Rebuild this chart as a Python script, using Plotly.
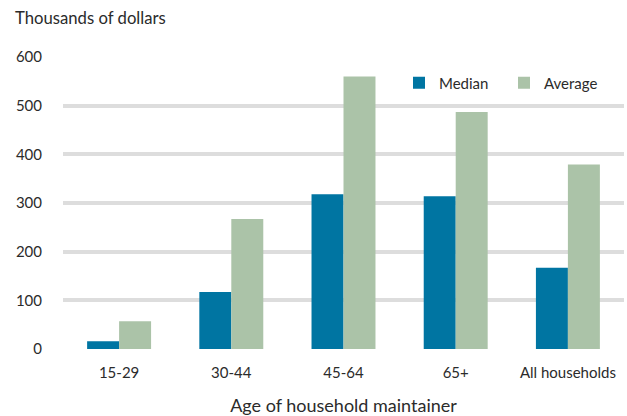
import plotly.graph_objects as go

categories = ["15-29", "30-44", "45-64", "65+", "All households"]
median_values = [16, 117, 318, 314, 167]
average_values = [57, 267, 560, 487, 379]
y_ticks = [0, 100, 200, 300, 400, 500, 600]

FONT = "Lato, 'Open Sans', sans-serif"
TXT = "#2b2b2b"

L, R, T, B = 63, 3, 57, 67
W, H = 627, 416
PW, PH = W - L - R, H - T - B

fig = go.Figure()
fig.add_trace(go.Bar(name="Median", x=categories, y=median_values,
                     marker=dict(color="#0075a2", line=dict(width=0))))
fig.add_trace(go.Bar(name="Average", x=categories, y=average_values,
                     marker=dict(color="#abc3a8", line=dict(width=0))))

fig.update_layout(
    width=W, height=H,
    margin=dict(l=L, r=R, t=T, b=B, autoexpand=False),
    paper_bgcolor="white", plot_bgcolor="white",
    barmode="group", bargap=0.43, bargroupgap=0,
    font=dict(family=FONT, color=TXT, size=14),
    legend=dict(orientation="h", x=(399 - L) / PW, xanchor="left",
                y=(H - B - 83) / PH, yanchor="middle",
                font=dict(size=15, family=FONT, color=TXT),
                entrywidth=60, entrywidthmode="pixels",
                tracegroupgap=0, bgcolor="rgba(0,0,0,0)"),
    showlegend=True,
    annotations=[dict(text="Thousands of dollars", xref="paper", yref="paper",
                      x=(13 - L) / PW, xanchor="left",
                      y=(H - B - 18) / PH, yanchor="middle", showarrow=False,
                      font=dict(size=16.7, family=FONT, color=TXT))],
)
fig.update_yaxes(range=[0, 600], tickvals=y_ticks, showgrid=True, automargin=False,
                 gridcolor="#dddddd", gridwidth=4, zeroline=False,
                 showline=False, ticks="", ticklabelstandoff=20,
                 tickfont=dict(size=15, family=FONT, color=TXT))
fig.update_xaxes(showgrid=False, showline=False, ticks="", ticklabelstandoff=13,
                 automargin=False,
                 tickfont=dict(size=15, family=FONT, color=TXT),
                 title=dict(text="Age of household maintainer", standoff=22,
                            font=dict(size=18, family=FONT, color=TXT)))

fig.write_html("out.html", config={"displayModeBar": False},
               post_script="document.body.style.margin='0px';")
